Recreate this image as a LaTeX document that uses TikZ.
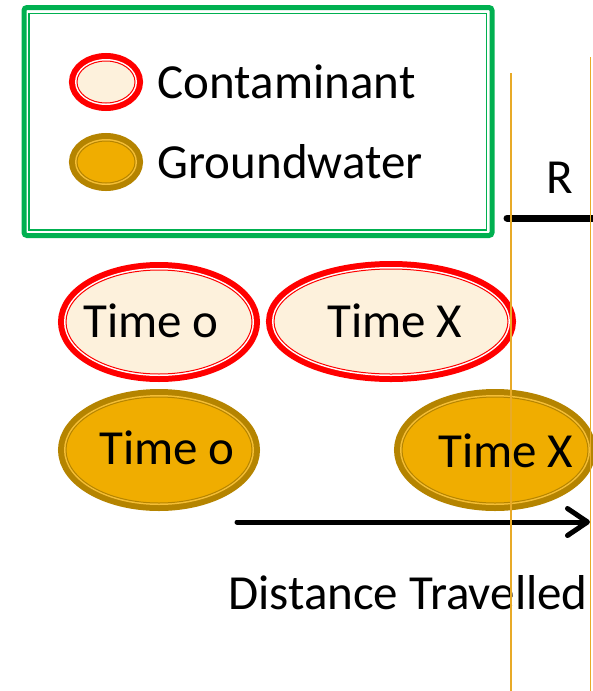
\documentclass[tikz,border=0pt]{standalone}
\usepackage{fontspec}
\setmainfont{Carlito}
\usetikzlibrary{shapes.geometric,arrows.meta,positioning}
\definecolor{cream}{HTML}{FDF1DC}
\definecolor{goldfill}{HTML}{F0AD00}
\definecolor{golddark}{HTML}{B58400}
\definecolor{goldgap}{HTML}{F5BE35}
\definecolor{boxgreen}{HTML}{00B050}
\definecolor{guideline}{HTML}{E8AA28}
\tikzset{
  contam/.style={ellipse,inner sep=0pt,fill=cream,draw=red,line width=1pt,
    preaction={draw=red,line width=16pt},preaction={draw=white,line width=4pt}},
  ground/.style={ellipse,inner sep=0pt,fill=goldfill,draw=golddark,line width=1pt,
    preaction={draw=golddark,line width=16pt},preaction={draw=goldgap,line width=4pt}},
  txt/.style={inner sep=0pt,font=\fontsize{49}{57}\selectfont},
  guide/.style={guideline,line width=1.2pt},
}
\begin{document}
\begin{tikzpicture}[x=1pt,y=-1pt]
\useasboundingbox (0,0) rectangle (592,691);

\draw[boxgreen,line width=5pt,rounded corners=3pt] (24,7.5) rectangle (492,235.5);
\draw[boxgreen,line width=1.5pt] (29,13.5) rectangle (486.5,230);

\node[contam,minimum width=58pt,minimum height=42pt] (lc) at (106,82) {};
\node[ground,minimum width=58pt,minimum height=42pt] (lg) at (106,162) {};
\node[txt,right=22pt of lc] (lctxt) {Contaminant};
\node[txt,right=22pt of lg] (lgtxt) {Groundwater};

\node[contam,minimum width=186pt,minimum height=104pt] (c0) at (159,322) {};
\node[contam,minimum width=234pt,minimum height=105pt] (cx) at (391,321.5) {};
\node[ground,minimum width=186pt,minimum height=106pt] (g0) at (159,450) {};
\node[ground,minimum width=186pt,minimum height=106pt] (gx) at (495,450) {};

\node[txt,anchor=base west] (c0txt) at ([xshift=-76pt,yshift=-15pt]c0.center) {Time o};
\node[txt,anchor=base west] (cxtxt) at ([xshift=-64pt,yshift=-15.5pt]cx.center) {Time X};
\node[txt,anchor=base west] (g0txt) at ([xshift=-60pt,yshift=-14pt]g0.center) {Time o};
\node[txt,anchor=base west] (gxtxt) at ([xshift=-57pt,yshift=-17pt]gx.center) {Time X};

\node[txt,anchor=base] (r) at (560,193) {R};
\coordinate (rl) at (507,218);
\coordinate (rr) at (596,218);
\draw[line width=7pt,line cap=round] (rl) -- (rr);

\coordinate (ds) at (237,522);
\coordinate (de) at (590,522);
\draw[line width=5pt,line cap=round,-{Straight Barb[length=20pt,width=27pt,round]}] (ds) -- (de);
\node[txt,anchor=base west] (dist) at (228,609) {Distance Travelled};

\draw[guide] (511,73) -- (511,691);
\draw[guide] (590.5,57) -- (590.5,691);
\end{tikzpicture}
\end{document}
